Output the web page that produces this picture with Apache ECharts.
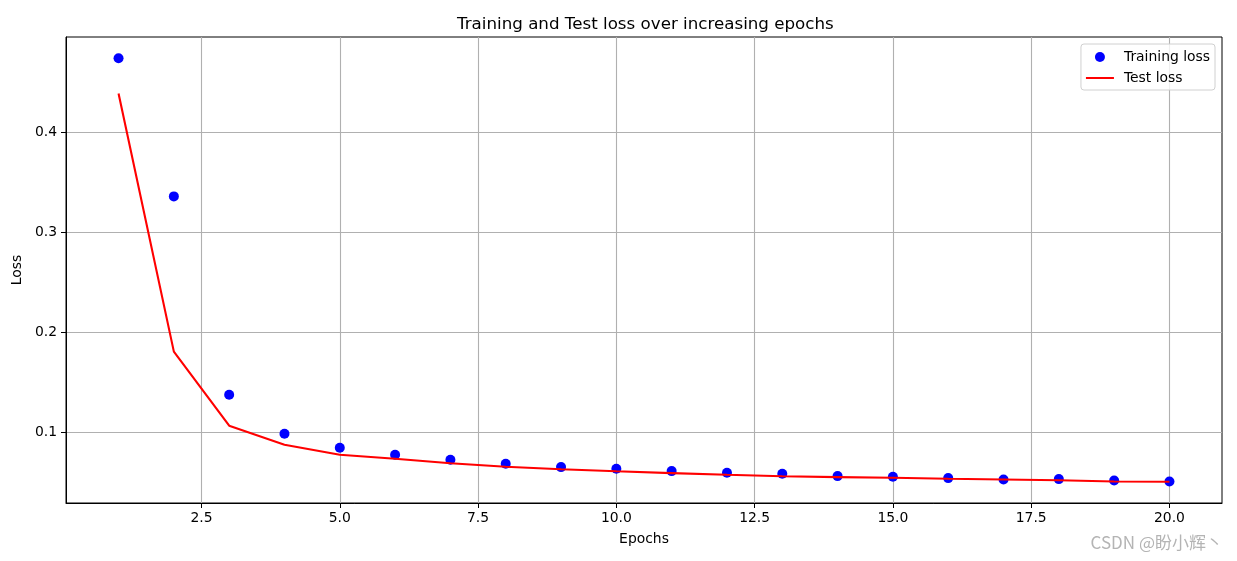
<!DOCTYPE html>
<html>
<head>
<meta charset="utf-8">
<script src="https://cdn.jsdelivr.net/npm/echarts@6/dist/echarts.min.js"></script>
<style>
html,body{margin:0;padding:0;background:#fff;}
#chart{width:1237px;height:561px;}
</style>
</head>
<body>
<div id="chart"></div>
<script>
const epochs = [1,2,3,4,5,6,7,8,9,10,11,12,13,14,15,16,17,18,19,20];
const trainingLoss = [0.474,0.336,0.138,0.099,0.085,0.078,0.073,0.069,0.0657,0.064,0.0617,0.060,0.059,0.0567,0.056,0.0547,0.0533,0.0537,0.0523,0.0513];
const testLoss = [0.4387,0.181,0.107,0.088,0.078,0.074,0.0695,0.066,0.0635,0.0615,0.0597,0.058,0.0565,0.0557,0.055,0.054,0.0533,0.0525,0.0513,0.051];
const xTicks = [2.5,5.0,7.5,10.0,12.5,15.0,17.5,20.0];
const yTicks = [0.1,0.2,0.3,0.4];

// matplotlib-like 5% margins
const xMinD = Math.min(...epochs), xMaxD = Math.max(...epochs);
const xPad = (xMaxD - xMinD) * 0.05;
const allY = trainingLoss.concat(testLoss);
const yMinD = Math.min(...allY), yMaxD = Math.max(...allY);
const yPad = (yMaxD - yMinD) * 0.05;

const font = 'DejaVu Sans';
const chart = echarts.init(document.getElementById('chart'));
chart.setOption({
  animation: false,
  backgroundColor: '#fff',
  textStyle: {fontFamily: font},
  title: {
    text: 'Training and Test loss over increasing epochs',
    left: 457, top: 16, padding: 0,
    textStyle: {fontFamily: font, fontSize: 16.7, fontWeight: 'normal', color: '#000'}
  },
  grid: {left: 66, right: 15, top: 37, bottom: 58, show: true, borderColor: '#000', borderWidth: 1, containLabel: false},
  legend: {
    orient: 'vertical', right: 22, top: 44,
    itemWidth: 28, itemHeight: 10, itemGap: 7,
    padding: [6, 5, 5, 5],
    backgroundColor: 'rgba(255,255,255,0.8)',
    borderColor: '#d0d0d0', borderWidth: 1, borderRadius: 3,
    textStyle: {fontFamily: font, fontSize: 13.9, color: '#000', padding: [0,0,0,5]},
    data: [
      {name: 'Training loss', icon: 'circle'},
      {name: 'Test loss', icon: 'path://M0,0 L28,0 L28,2 L0,2 Z'}
    ]
  },
  xAxis: {
    type: 'value', min: xMinD - xPad, max: xMaxD + xPad,
    name: 'Epochs', nameLocation: 'middle', nameGap: 29,
    nameTextStyle: {fontFamily: font, fontSize: 13.9, color: '#000'},
    axisLine: {show: true, onZero: false, lineStyle: {color: '#000', width: 1}},
    axisTick: {show: true, length: 5, lineStyle: {color: '#000'}, customValues: xTicks},
    axisLabel: {show: true, margin: 8, fontFamily: font, fontSize: 13.9, color: '#000', customValues: xTicks,
      formatter: v => v.toFixed(1)},
    splitLine: {show: true, lineStyle: {color: '#b0b0b0', width: 1.1}}
  },
  yAxis: {
    type: 'value', min: yMinD - yPad, max: yMaxD + yPad,
    name: 'Loss', nameLocation: 'middle', nameGap: 31, nameRotate: 90,
    nameTextStyle: {fontFamily: font, fontSize: 13.9, color: '#000'},
    axisLine: {show: true, onZero: false, lineStyle: {color: '#000', width: 1}},
    axisTick: {show: true, length: 5, lineStyle: {color: '#000'}, customValues: yTicks},
    axisLabel: {show: true, margin: 9, fontFamily: font, fontSize: 13.9, color: '#000', customValues: yTicks,
      formatter: v => v.toFixed(1)},
    splitLine: {show: true, lineStyle: {color: '#b0b0b0', width: 1.1}}
  },
  series: [
    {
      name: 'Training loss', type: 'scatter', symbol: 'circle', symbolSize: 10,
      itemStyle: {color: '#0000ff', opacity: 1},
      data: epochs.map((e, i) => [e, trainingLoss[i]]), z: 3
    },
    {
      name: 'Test loss', type: 'line', symbol: 'none', showSymbol: false,
      lineStyle: {color: '#ff0000', width: 2.1}, itemStyle: {color: '#ff0000'},
      data: epochs.map((e, i) => [e, testLoss[i]]), z: 4
    }
  ],
  graphic: [{
    type: 'text', right: 14, top: 534,
    style: {text: 'CSDN @盼小辉丶', fontFamily: 'Noto Sans CJK SC', fontSize: 17, fill: '#b4b4b4'}
  }]
});
</script>
</body>
</html>
